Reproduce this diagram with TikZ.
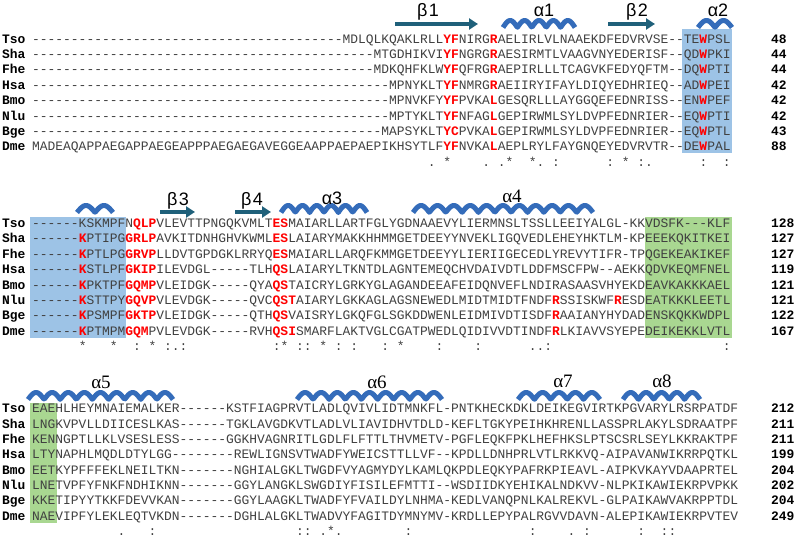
\documentclass[tikz,border=0pt]{standalone}
\usepackage{fontspec}
\setmonofont{Liberation Mono}
\newfontfamily\sssans{Liberation Sans}
\newfontfamily\ssserif{Liberation Serif}
\usetikzlibrary{arrows.meta}

\definecolor{restext}{RGB}{64,64,64}
\definecolor{hitred}{RGB}{255,0,0}
\definecolor{boxblue}{RGB}{157,195,230}
\definecolor{boxgreen}{RGB}{169,215,145}
\definecolor{strandcol}{RGB}{31,96,122}
\definecolor{helixcol}{RGB}{52,108,186}

\newdimen\colw \colw=7.76pt
\newcommand{\hit}[1]{{\bfseries\color{hitred}#1}}
\newcommand{\gaps}[1]{\foreach\g in {1,...,#1}{-}}
\newcommand{\cskip}[1]{\hspace*{#1\colw}}

\tikzset{
  seqtxt/.style={anchor=base west, inner sep=0pt, text=restext, font=\ttfamily\fontsize{12.93}{15}\selectfont},
  taxon/.style={anchor=base west, inner sep=0pt, font=\ttfamily\bfseries\fontsize{12.93}{15}\selectfont},
  resnum/.style={anchor=base west, inner sep=0pt, font=\ttfamily\bfseries\fontsize{12.93}{15}\selectfont},
  consline/.style={anchor=base west, inner sep=0pt, text=restext, font=\ttfamily\frenchspacing\fontsize{12.93}{15}\selectfont},
  strand/.style={draw=strandcol, line width=4pt, -{Triangle[length=9pt,width=11pt]}},
  helixrib/.style={draw=helixcol, line width=5pt, line join=round},
  sslab/.style={anchor=base, inner sep=0pt, font=\sssans\fontsize{18}{20}\selectfont},
  sslabser/.style={anchor=base, inner sep=0pt, font=\ssserif\fontsize{19}{22}\selectfont}
}

\begin{document}
\begin{tikzpicture}[x=1pt, y=-1pt]
  \useasboundingbox (0,0) rectangle (796,537);

  % shaded regions
  \fill[boxblue] (682,29) rectangle (732,153);
  \fill[boxblue] (30,217) rectangle (126,338);
  \fill[boxgreen] (645,217) rectangle (732,338);
  \fill[boxgreen] (30,403) rectangle (57,523);

  % Block 1: secondary structure
  \draw[strand] (395,24) -- (478,24);
  \node[sslab] (b1) at (428,16.5) {β\kern1.5pt1};
  \draw[helixrib] plot[domain=503:575, samples=90] (\x, {27.5-7*abs(sin(12.5*(\x-503)))});
  \node[sslab] (a1) at (544,16.5) {α1};
  \draw[strand] (608,24) -- (655,24);
  \node[sslab] (b2) at (637,16.5) {β\kern1.5pt2};
  \draw[helixrib] plot[domain=698:732, samples=50] (\x, {27.5-7*abs(sin(10.588*(\x-698)))});
  \node[sslab] (a2) at (718,16.5) {α2};

  % Block 1: sequences
  \node[taxon] (Tso-1) at (2,43.3) {Tso};
  \node[seqtxt] (Tso-1-seq) at (32,43.3) {\gaps{40}MDLQLKQAKLRLL\hit{YF}NIRG\hit{R}AELIRLVLNAAEKDFEDVRVSE--TE\hit{W}PSL};
  \node[resnum] (Tso-1-num) at (771,43.3) {48};
  \node[taxon] (Sha-1) at (2,58.65) {Sha};
  \node[seqtxt] (Sha-1-seq) at (32,58.65) {\gaps{44}MTGDHIKVI\hit{YF}NGRG\hit{R}AESIRMTLVAAGVNYEDERISF--QD\hit{W}PKI};
  \node[resnum] (Sha-1-num) at (771,58.65) {44};
  \node[taxon] (Fhe-1) at (2,74) {Fhe};
  \node[seqtxt] (Fhe-1-seq) at (32,74) {\gaps{44}MDKQHFKLW\hit{YF}QFRG\hit{R}AEPIRLLLTCAGVKFEDYQFTM--DQ\hit{W}PTI};
  \node[resnum] (Fhe-1-num) at (771,74) {44};
  \node[taxon] (Hsa-1) at (2,89.35) {Hsa};
  \node[seqtxt] (Hsa-1-seq) at (32,89.35) {\gaps{46}MPNYKLT\hit{YF}NMRG\hit{R}AEIIRYIFAYLDIQYEDHRIEQ--AD\hit{W}PEI};
  \node[resnum] (Hsa-1-num) at (771,89.35) {42};
  \node[taxon] (Bmo-1) at (2,104.7) {Bmo};
  \node[seqtxt] (Bmo-1-seq) at (32,104.7) {\gaps{46}MPNVKFY\hit{YF}PVKA\hit{L}GESQRLLLAYGGQEFEDNRISS--EN\hit{W}PEF};
  \node[resnum] (Bmo-1-num) at (771,104.7) {42};
  \node[taxon] (Nlu-1) at (2,120.05) {Nlu};
  \node[seqtxt] (Nlu-1-seq) at (32,120.05) {\gaps{46}MPTYKLT\hit{YF}NFAG\hit{L}GEPIRWMLSYLDVPFEDNRIER--EQ\hit{W}PTI};
  \node[resnum] (Nlu-1-num) at (771,120.05) {42};
  \node[taxon] (Bge-1) at (2,135.4) {Bge};
  \node[seqtxt] (Bge-1-seq) at (32,135.4) {\gaps{45}MAPSYKLT\hit{YC}PVKA\hit{L}GEPIRWMLSYLDVPFEDNRIER--EQ\hit{W}PTL};
  \node[resnum] (Bge-1-num) at (771,135.4) {43};
  \node[taxon] (Dme-1) at (2,150.75) {Dme};
  \node[seqtxt] (Dme-1-seq) at (32,150.75) {MADEAQAPPAEGAPPAEGEAPPPAEGAEGAVEGGEAAPPAEPAEPIKHSYTLF\hit{YF}NVKA\hit{L}AEPLRYLFAYGNQEYEDVRVTR--DE\hit{W}PAL};
  \node[resnum] (Dme-1-num) at (771,150.75) {88};
  \node[consline] (cons-1) at (32,166.1) {\cskip{51}.\cskip{1}*\cskip{4}.\cskip{1}.*\cskip{2}*.\cskip{1}:\cskip{6}:\cskip{1}*\cskip{1}:.\cskip{6}:\cskip{2}:};

  % Block 2: secondary structure
  \draw[helixrib] plot[domain=77:113, samples=50] (\x, {212.5-7*abs(sin(10*(\x-77)))});
  \draw[strand] (160,212) -- (195,212);
  \node[sslab] (b3) at (178,206) {β\kern1.5pt3};
  \draw[strand] (235,212) -- (271,212);
  \node[sslab] (b4) at (252,206) {β\kern1.5pt4};
  \draw[helixrib] plot[domain=281:367, samples=100] (\x, {212.5-7*abs(sin(12.558*(\x-281)))});
  \node[sslab] (a3) at (332,205) {α3};
  \draw[helixrib] plot[domain=413:593, samples=180] (\x, {212.5-7*abs(sin(11*(\x-413)))});
  \node[sslabser] (a4) at (512,203) {α4};

  % Block 2: sequences
  \node[taxon] (Tso-2) at (2,227.3) {Tso};
  \node[seqtxt] (Tso-2-seq) at (32,227.3) {\gaps{6}KSKMPFN\hit{QLP}VLEVTTPNGQKVMLT\hit{ES}MAIARLLARTFGLYGDNAAEVYLIERMNSLTSSLLEEIYALGL-KKVDSFK---KLF};
  \node[resnum] (Tso-2-num) at (771,227.3) {128};
  \node[taxon] (Sha-2) at (2,242.75) {Sha};
  \node[seqtxt] (Sha-2-seq) at (32,242.75) {\gaps{6}\hit{K}PTIPG\hit{GRLP}AVKITDNHGHVKWML\hit{ES}LAIARYMAKKHHMMGETDEEYYNVEKLIGQVEDLEHEYHKTLM-KPEEEKQKITKEI};
  \node[resnum] (Sha-2-num) at (771,242.75) {127};
  \node[taxon] (Fhe-2) at (2,258.2) {Fhe};
  \node[seqtxt] (Fhe-2-seq) at (32,258.2) {\gaps{6}\hit{K}PTLPG\hit{GRVP}LLDVTGPDGKLRRYQ\hit{ES}MAIARLLARQFKMMGETDEEYYLIERIIGECEDLYREVYTIFR-TPQGEKEAKIKEF};
  \node[resnum] (Fhe-2-num) at (771,258.2) {127};
  \node[taxon] (Hsa-2) at (2,273.65) {Hsa};
  \node[seqtxt] (Hsa-2-seq) at (32,273.65) {\gaps{6}\hit{K}STLPF\hit{GKIP}ILEVDGL-----TLH\hit{QS}LAIARYLTKNTDLAGNTEMEQCHVDAIVDTLDDFMSCFPW--AEKKQDVKEQMFNEL};
  \node[resnum] (Hsa-2-num) at (771,273.65) {119};
  \node[taxon] (Bmo-2) at (2,289.1) {Bmo};
  \node[seqtxt] (Bmo-2-seq) at (32,289.1) {\gaps{6}\hit{K}PKTPF\hit{GQMP}VLEIDGK-----QYA\hit{QS}TAICRYLGRKYGLAGANDEEAFEIDQNVEFLNDIRASAASVHYEKDEAVKAKKKAEL};
  \node[resnum] (Bmo-2-num) at (771,289.1) {121};
  \node[taxon] (Nlu-2) at (2,304.55) {Nlu};
  \node[seqtxt] (Nlu-2-seq) at (32,304.55) {\gaps{6}\hit{K}STTPY\hit{GQVP}VLEVDGK-----QVC\hit{QST}AIARYLGKKAGLAGSNEWEDLMIDTMIDTFNDF\hit{R}SSISKWF\hit{R}ESDEATKKKLEETL};
  \node[resnum] (Nlu-2-num) at (771,304.55) {121};
  \node[taxon] (Bge-2) at (2,320) {Bge};
  \node[seqtxt] (Bge-2-seq) at (32,320) {\gaps{6}\hit{K}PSMPF\hit{GKTP}VLEIDGK-----QTH\hit{QS}VAISRYLGKQFGLSGKDDWENLEIDMIVDTISDF\hit{R}AAIANYHYDADENSKQKKWDPL};
  \node[resnum] (Bge-2-num) at (771,320) {122};
  \node[taxon] (Dme-2) at (2,335.45) {Dme};
  \node[seqtxt] (Dme-2-seq) at (32,335.45) {\gaps{6}\hit{K}PTMPM\hit{GQM}PVLEVDGK-----RVH\hit{QSI}SMARFLAKTVGLCGATPWEDLQIDIVVDTINDF\hit{R}LKIAVVSYEPEDEIKEKKLVTL};
  \node[resnum] (Dme-2-num) at (771,335.45) {167};
  \node[consline] (cons-2) at (32,350.9) {\cskip{6}*\cskip{3}*\cskip{2}:\cskip{1}*\cskip{1}:.:\cskip{11}:*\cskip{1}::\cskip{1}*\cskip{1}:\cskip{1}:\cskip{3}:\cskip{1}*\cskip{4}:\cskip{4}:\cskip{6}..:\cskip{22}:};

  % Block 3: secondary structure
  \draw[helixrib] plot[domain=28:173, samples=150] (\x, {399.5-7*abs(sin(11.172*(\x-28)))});
  \node[sslabser] (a5) at (101,389) {α5};
  \draw[helixrib] plot[domain=297:442, samples=150] (\x, {399.5-7*abs(sin(11.172*(\x-297)))});
  \node[sslabser] (a6) at (377,389) {α6};
  \draw[helixrib] plot[domain=518:600, samples=90] (\x, {399.5-7*abs(sin(10.976*(\x-518)))});
  \node[sslabser] (a7) at (563,388) {α7};
  \draw[helixrib] plot[domain=623:700, samples=90] (\x, {399.5-7*abs(sin(11.688*(\x-623)))});
  \node[sslabser] (a8) at (662,388) {α8};

  % Block 3: sequences
  \node[taxon] (Tso-3) at (2,413) {Tso};
  \node[seqtxt] (Tso-3-seq) at (32,413) {EAEHLHEYMNAIEMALKER------KSTFIAGPRVTLADLQVIVLIDTMNKFL-PNTKHECKDKLDEIKEGVIRTKPGVARYLRSRPATDF};
  \node[resnum] (Tso-3-num) at (771,413) {212};
  \node[taxon] (Sha-3) at (2,428.3) {Sha};
  \node[seqtxt] (Sha-3-seq) at (32,428.3) {LNGKVPVLLDIICESLKAS------TGKLAVGDKVTLADLVLIAVIDHVTDLD-KEFLTGKYPEIHKHRENLLASSPRLAKYLSDRAATPF};
  \node[resnum] (Sha-3-num) at (771,428.3) {211};
  \node[taxon] (Fhe-3) at (2,443.6) {Fhe};
  \node[seqtxt] (Fhe-3-seq) at (32,443.6) {KENNGPTLLKLVSESLESS------GGKHVAGNRITLGDLFLFTTLTHVMETV-PGFLEQKFPKLHEFHKSLPTSCSRLSEYLKKRAKTPF};
  \node[resnum] (Fhe-3-num) at (771,443.6) {211};
  \node[taxon] (Hsa-3) at (2,458.9) {Hsa};
  \node[seqtxt] (Hsa-3-seq) at (32,458.9) {LTYNAPHLMQDLDTYLGG--------REWLIGNSVTWADFYWEICSTTLLVF--KPDLLDNHPRLVTLRKKVQ-AIPAVANWIKRRPQTKL};
  \node[resnum] (Hsa-3-num) at (771,458.9) {199};
  \node[taxon] (Bmo-3) at (2,474.2) {Bmo};
  \node[seqtxt] (Bmo-3-seq) at (32,474.2) {EETKYPFFFEKLNEILTKN-------NGHIALGKLTWGDFVYAGMYDYLKAMLQKPDLEQKYPAFRKPIEAVL-AIPKVKAYVDAAPRTEL};
  \node[resnum] (Bmo-3-num) at (771,474.2) {204};
  \node[taxon] (Nlu-3) at (2,489.5) {Nlu};
  \node[seqtxt] (Nlu-3-seq) at (32,489.5) {LNETVPFYFNKFNDHIKNN-------GGYLANGKLSWGDIYFISILEFMTTI--WSDIIDKYEHIKALNDKVV-NLPKIKAWIEKRPVPKK};
  \node[resnum] (Nlu-3-num) at (771,489.5) {202};
  \node[taxon] (Bge-3) at (2,504.8) {Bge};
  \node[seqtxt] (Bge-3-seq) at (32,504.8) {KKETIPYYTKKFDEVVKAN-------GGYLAAGKLTWADFYFVAILDYLNHMA-KEDLVANQPNLKALREKVL-GLPAIKAWVAKRPPTDL};
  \node[resnum] (Bge-3-num) at (771,504.8) {204};
  \node[taxon] (Dme-3) at (2,520.1) {Dme};
  \node[seqtxt] (Dme-3-seq) at (32,520.1) {NAEVIPFYLEKLEQTVKDN-------DGHLALGKLTWADVYFAGITDYMNYMV-KRDLLEPYPALRGVVDAVN-ALEPIKAWIEKRPVTEV};
  \node[resnum] (Dme-3-num) at (771,520.1) {249};
  \node[consline] (cons-3) at (32,535.4) {\cskip{11}.\cskip{3}:\cskip{18}::\cskip{1}.*.\cskip{8}:\cskip{15}:\cskip{4}.\cskip{1}:\cskip{6}:\cskip{2}::};
\end{tikzpicture}
\end{document}
